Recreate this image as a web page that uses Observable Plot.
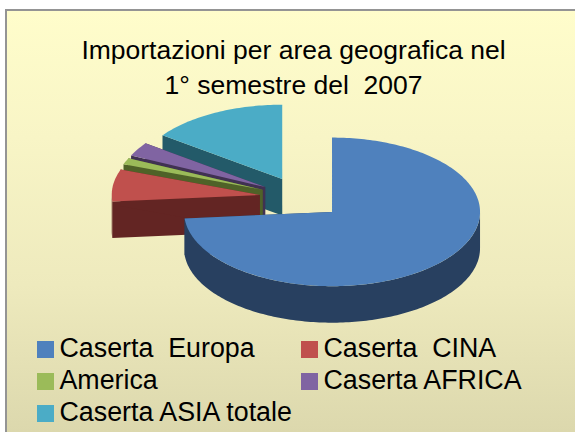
<!DOCTYPE html>
<html><head><meta charset="utf-8">
<script src="https://cdn.jsdelivr.net/npm/d3@7"></script>
<script src="https://cdn.jsdelivr.net/npm/@observablehq/plot@0.6"></script>
<style>
html,body{margin:0;background:#fff;font-family:"Liberation Sans",Arial,sans-serif;color:#000}
#frame{position:absolute;left:5px;top:9px;width:570px;height:423px;box-sizing:border-box;border:2px solid #949494;border-width:2px 0 0 2px;overflow:hidden;
 background:linear-gradient(#fffdcb 0%,#f8f5c6 30%,#eeeabd 65%,#dcd8ad 100%)}
#title{position:absolute;left:0;width:573px;top:22px;text-align:center;font-size:26.5px;line-height:35px;white-space:pre-wrap}
#chart{position:absolute;left:0;top:89px}
#chart svg{background:transparent;display:block;overflow:visible}
#legend{position:absolute;left:0;top:321px;width:100%;font-size:26.8px}
.it{position:absolute;white-space:pre;line-height:32px;height:32px}
.sw{position:absolute;width:17px;height:17px;top:9px}
.it span.t{position:absolute;left:22.5px;top:0}
</style></head><body>
<div id="frame">
<div id="title"></div>
<div id="chart"></div>
<div id="legend"></div>
</div>
<script>
const titleLines = ["Importazioni per area geografica nel", "1° semestre del  2007"];
const categories = ["Caserta  Europa", "Caserta  CINA", "America", "Caserta AFRICA", "Caserta ASIA totale"];
const shares = [73.6, 6.95, 1.4, 3.05, 15];
const topColors = ["#4f81bd", "#c0504d", "#9bbb59", "#8064a2", "#4bacc6"];
const wallColors = ["#284060", "#632523", "#4f6228", "#403152", "#235a69"];
const explode = 0.2825, depth = 36.5 / 148, squash = 74.3 / 148;

const W = 568, H = 232, ox = 5 + 2, oy = 9 + 2 + 89;
const R = 148, cx = 301.2 - ox, cy = 197.7 - oy;

const total = d3.sum(shares);
let acc = 0;
const slices = shares.map((v, i) => {
  const a0 = acc / total * 2 * Math.PI; acc += v;
  const a1 = acc / total * 2 * Math.PI; const m = (a0 + a1) / 2;
  return {i, a0, a1, tx: explode * Math.sin(m), ty: -explode * Math.cos(m) * squash};
});
const px = (s, a) => s.tx + Math.sin(a);
const py = (s, a) => s.ty - Math.cos(a) * squash;
function arcAngles(a0, a1) { const n = Math.max(2, Math.ceil((a1 - a0) / 0.02)); return d3.range(n + 1).map(k => a0 + (a1 - a0) * k / n); }

const rows = [];
const order = [4, 3, 2, 1, 0];
for (const i of order) {
  const s = slices[i];
  for (const [name, a] of [["r0", s.a0], ["r1", s.a1]]) {
    rows.push({z: i + name, fill: wallColors[i], x1: s.tx, y1: s.ty, x2: s.tx, y2: s.ty + depth});
    rows.push({z: i + name, fill: wallColors[i], x1: px(s, a), y1: py(s, a), x2: px(s, a), y2: py(s, a) + depth});
  }
  const lo = Math.max(s.a0, Math.PI / 2), hi = Math.min(s.a1, 3 * Math.PI / 2);
  if (hi > lo) for (const a of arcAngles(lo, hi))
    rows.push({z: i + "o", fill: wallColors[i], x1: px(s, a), y1: py(s, a), x2: px(s, a), y2: py(s, a) + depth});
  for (const a of arcAngles(s.a0, s.a1))
    rows.push({z: i + "t", fill: topColors[i], x1: s.tx, y1: s.ty, x2: px(s, a), y2: py(s, a)});
}

const chart = Plot.plot({
  width: W, height: H, margin: 0,
  x: {axis: null, domain: [-cx / R, (W - cx) / R], range: [0, W]},
  y: {axis: null, domain: [-cy / R, (H - cy) / R], range: [0, H]},
  marks: [
    Plot.area(rows, {x1: "x1", y1: "y1", x2: "x2", y2: "y2", z: "z", fill: "fill", curve: "linear"})
  ]
});
document.getElementById("chart").append(chart);

document.getElementById("title").textContent = titleLines.join("\n");
const leg = document.getElementById("legend");
categories.forEach((c, i) => {
  const it = document.createElement("div"); it.className = "it";
  it.style.left = (i % 2 ? 294 : 30) + "px";
  it.style.top = Math.floor(i / 2) * 32 + "px";
  const sw = document.createElement("span"); sw.className = "sw"; sw.style.background = topColors[i];
  const t = document.createElement("span"); t.className = "t"; t.textContent = c;
  it.append(sw, t); leg.append(it);
});
</script>
</body></html>
